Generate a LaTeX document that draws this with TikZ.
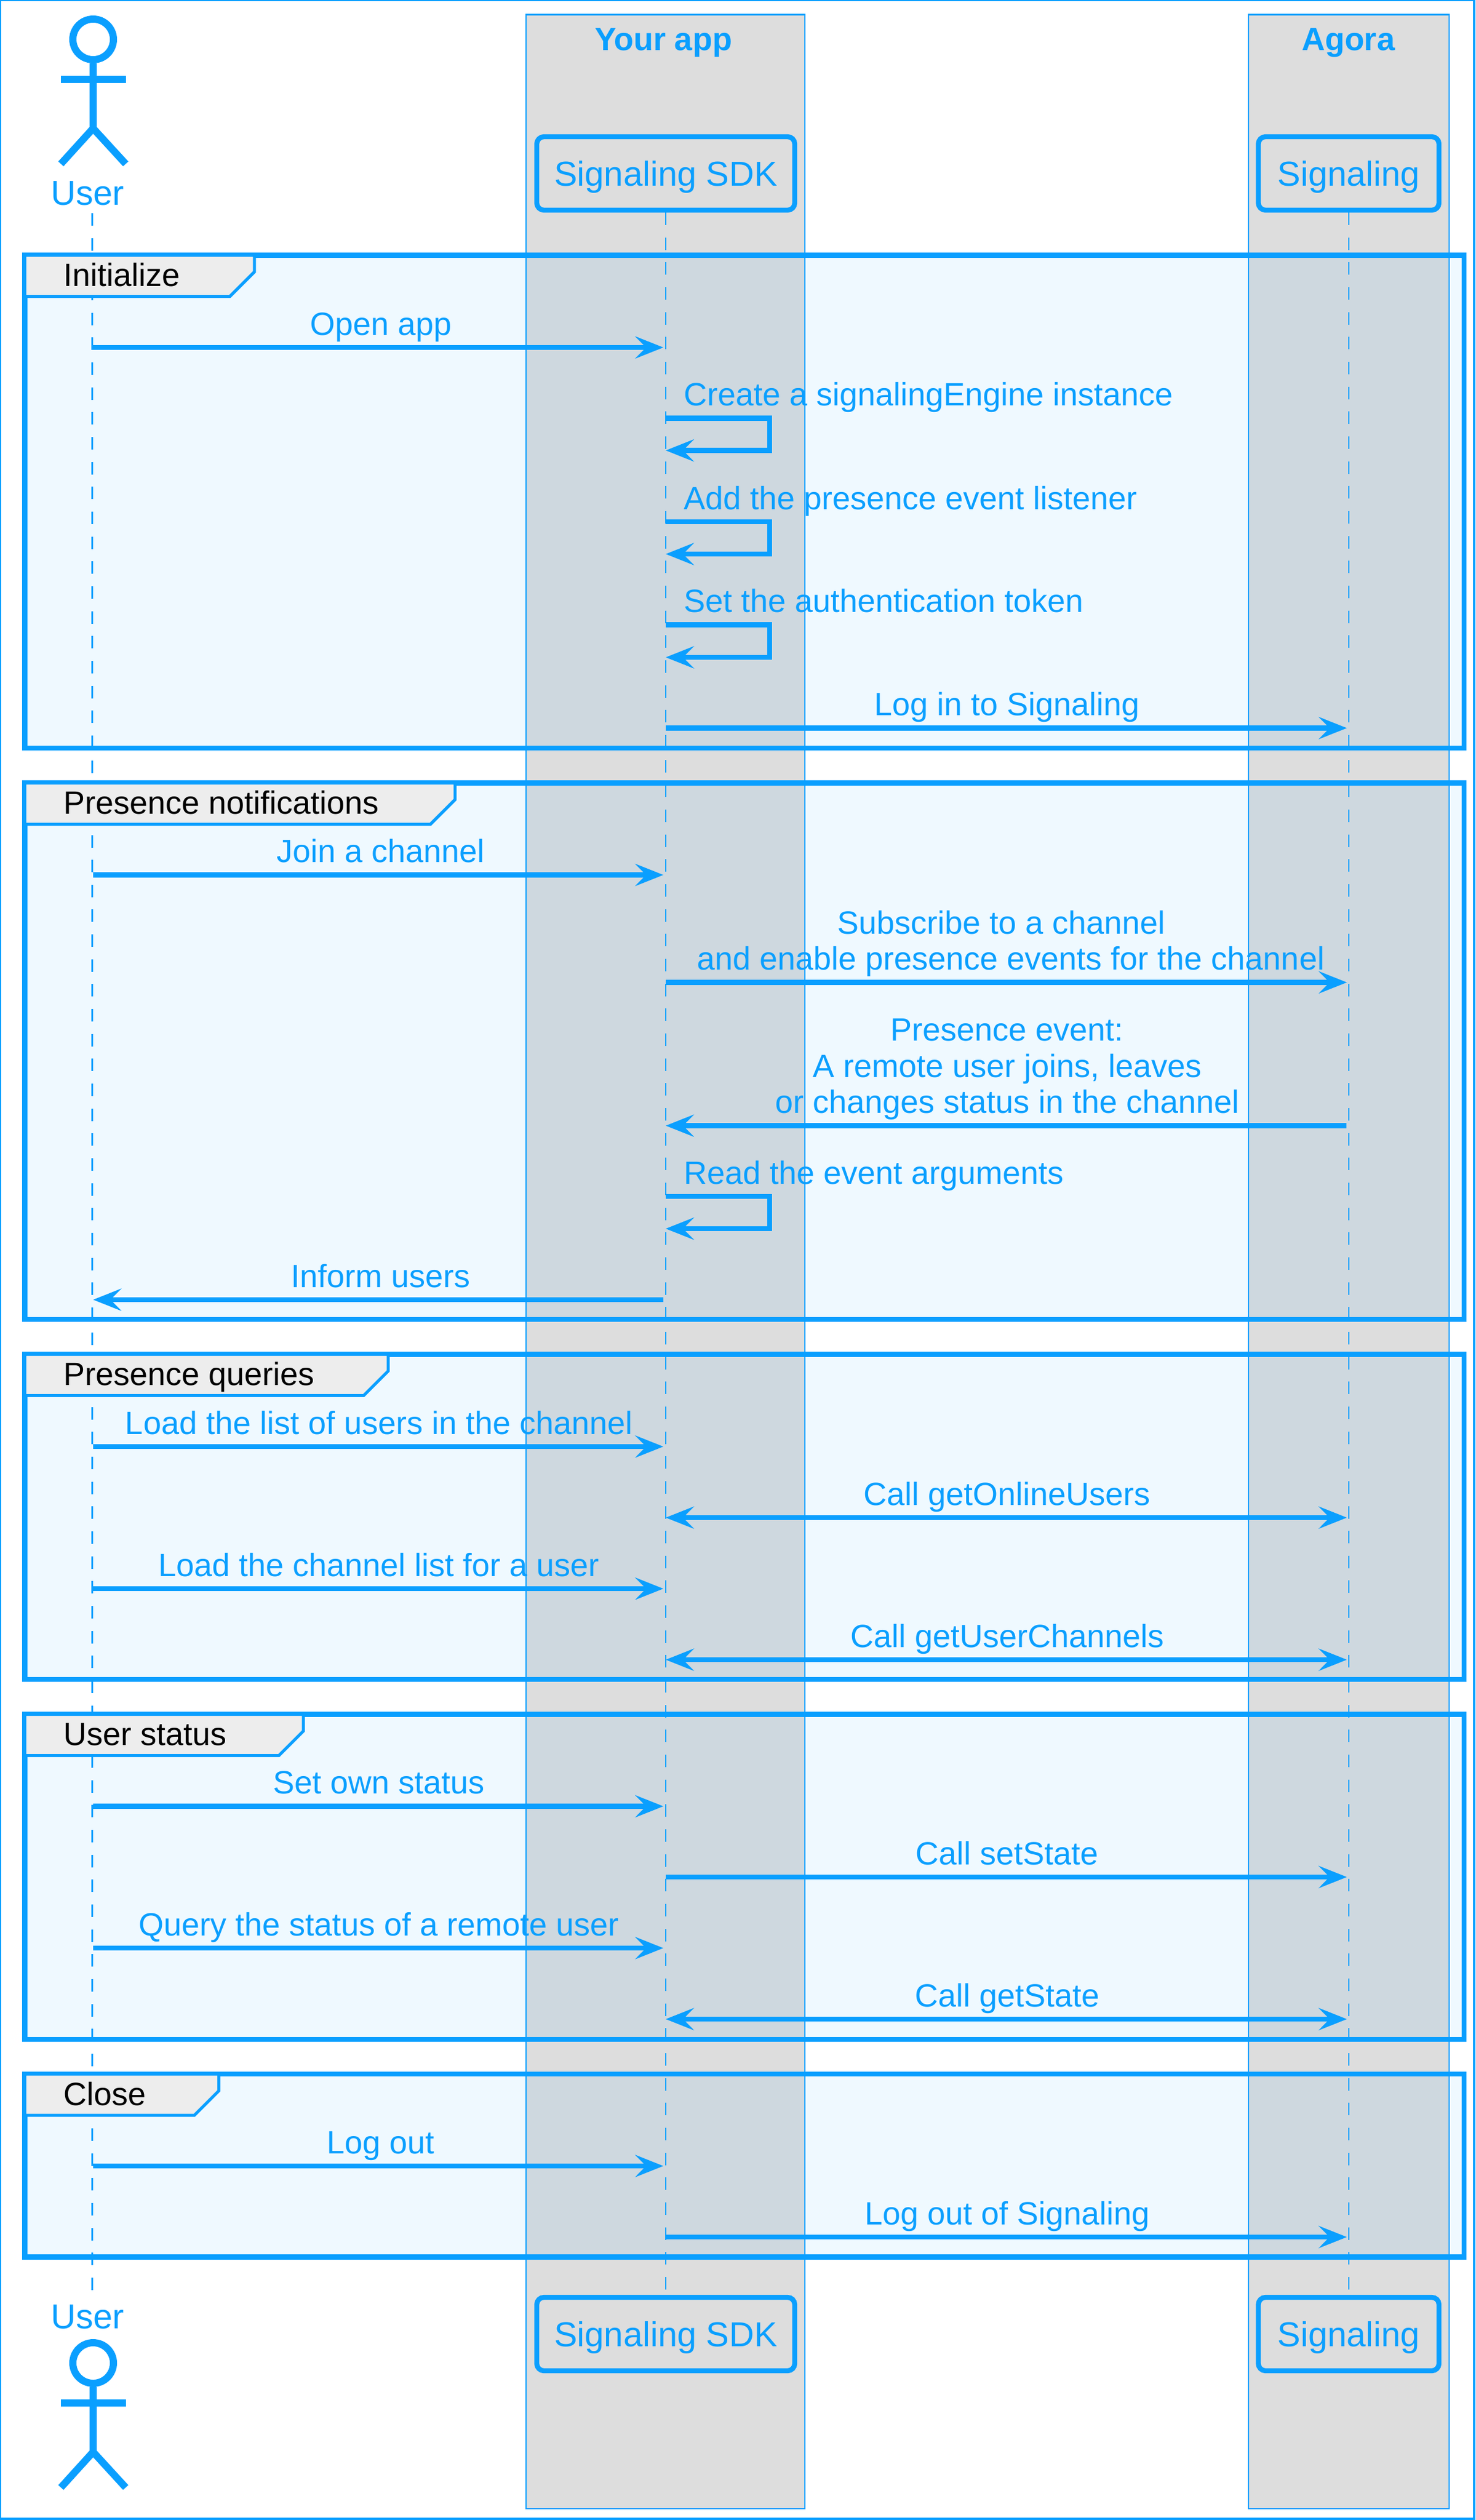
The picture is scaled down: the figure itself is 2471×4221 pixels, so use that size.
\documentclass[tikz,border=0pt]{standalone}
\usepackage{fontspec}
\setmainfont{Liberation Sans}
\usepackage{tikz}
\usetikzlibrary{arrows.meta}
\definecolor{agblue}{HTML}{0A9FFF}
\tikzset{
	x=1pt,
	y=-1pt,
	agtip/.tip={Stealth[length=47pt,width=37pt,inset=18pt]},
	lane/.style={
		draw=agblue,
		fill=black!13.5,
		line width=2.5pt,
	},
	lanetitle/.style={
		anchor=base,
		inner sep=0pt,
		text=agblue,
		font=\fontsize{54}{60.5}\selectfont\bfseries,
	},
	box/.style={
		draw=agblue,
		rectangle,
		rounded corners=12pt,
		line width=8.3pt,
		minimum height=123pt,
		text=agblue,
		text height=50pt,
		text depth=9pt,
		inner sep=0pt,
		font=\fontsize{58}{64}\selectfont,
	},
	actorname/.style={
		anchor=base,
		inner sep=0pt,
		text=agblue,
		font=\fontsize{58}{64}\selectfont,
	},
	lifeline/.style={
		draw=agblue,
		line width=2.5pt,
		dash pattern=on 21pt off 20.66pt,
	},
	frame/.style={
		draw=agblue,
		line width=8.3pt,
		fill=agblue,
		fill opacity=0.065,
		draw opacity=1,
	},
	tabshape/.style={
		draw=agblue,
		fill=black!7,
		line width=5pt,
	},
	tabname/.style={
		anchor=base west,
		inner sep=0pt,
		text=black,
		font=\fontsize{54}{60.5}\selectfont,
	},
	msg/.style={
		draw=agblue,
		line width=8.3pt,
		-agtip,
	},
	both/.style={
		draw=agblue,
		line width=8.3pt,
		agtip-agtip,
	},
	lbl/.style={
		anchor=south,
		inner sep=0pt,
		outer sep=0pt,
		yshift=21pt,
		text=agblue,
		text depth=0pt,
		align=center,
		font=\fontsize{54}{60.5}\selectfont,
	},
	selflbl/.style={
		lbl,
		anchor=south west,
		xshift=30.5pt,
	},
	actorman/.pic={
		\draw[agblue,line width=12pt] (0,0) circle (34);
		\draw[agblue,line width=12pt] (0,40) -- (0,149);
		\draw[agblue,line width=12pt] (-54,67) -- (55,67);
		\draw[agblue,line width=12pt] (-54,208.5) -- (0,149) -- (54.5,208.5);
	},
}

\begin{document}
\begin{tikzpicture}
	\useasboundingbox (0,0) rectangle (2471,4221);
	\draw[agblue,line width=4pt] (0,0) rectangle (2469,4219);

	\draw[lane] (881,24.5) rectangle (1348,4202);
	\draw[lane] (2091,24.5) rectangle (2427,4202);
	\node[lanetitle] (YourApp) at (1111,84) {Your app};
	\node[lanetitle] (Agora) at (2258,84) {Agora};

	\pic at (156,66) {actorman};
	\pic at (156,3958) {actorman};
	\node[actorname] (User1) at (147,343) {User};
	\node[actorname] (User2) at (147,3900) {User};

	\node[box,minimum width=432pt] (Sdk1) at (1115,290.5) {Signaling SDK};
	\node[box,minimum width=302.5pt] (Sig1) at (2258.75,290.5) {Signaling};
	\node[box,minimum width=432pt] (Sdk2) at (1115,3909.5) {Signaling SDK};
	\node[box,minimum width=302.5pt] (Sig2) at (2258.75,3909.5) {Signaling};

	\coordinate (U1) at (154.5,357);
	\coordinate (U2) at (154.5,3836);
	\draw[lifeline] (U1) -- (U2);
	\draw[lifeline,shorten >=8pt] (Sdk1) -- (Sdk2);
	\draw[lifeline,shorten >=8pt] (Sig1) -- (Sig2);

	% groups
	\draw[frame] (41.5,427.5) rectangle (2452,1253);
	\draw[tabshape] (41.5,427.5) -- (426,427.5) -- (426,455.5) -- (385,496.5) -- (41.5,496.5) -- cycle;
	\node[tabname] (Tab1) at (106,479.5) {Initialize};

	\draw[frame] (41.5,1311.5) rectangle (2452,2210);
	\draw[tabshape] (41.5,1311.5) -- (762,1311.5) -- (762,1339.5) -- (721,1380.5) -- (41.5,1380.5) -- cycle;
	\node[tabname] (Tab2) at (106,1363.5) {Presence notifications};

	\draw[frame] (41.5,2268.5) rectangle (2452,2813);
	\draw[tabshape] (41.5,2268.5) -- (650,2268.5) -- (650,2296.5) -- (609,2337.5) -- (41.5,2337.5) -- cycle;
	\node[tabname] (Tab3) at (106,2320.5) {Presence queries};

	\draw[frame] (41.5,2871.5) rectangle (2452,3416);
	\draw[tabshape] (41.5,2871.5) -- (508,2871.5) -- (508,2899.5) -- (467,2940.5) -- (41.5,2940.5) -- cycle;
	\node[tabname] (Tab4) at (106,2923.5) {User status};

	\draw[frame] (41.5,3474) rectangle (2452,3780.5);
	\draw[tabshape] (41.5,3474) -- (366.5,3474) -- (366.5,3502) -- (325.5,3543) -- (41.5,3543) -- cycle;
	\node[tabname] (Tab5) at (106,3526) {Close};

	% message heights
	\coordinate (M1) at (0,582);
	\coordinate (M2) at (0,700.5);
	\coordinate (M3) at (0,754.5);
	\coordinate (M4) at (0,874);
	\coordinate (M5) at (0,928);
	\coordinate (M6) at (0,1046.5);
	\coordinate (M7) at (0,1101);
	\coordinate (M8) at (0,1219.5);
	\coordinate (M9) at (0,1465.5);
	\coordinate (M10) at (0,1645.5);
	\coordinate (M11) at (0,1885.5);
	\coordinate (M12) at (0,2004);
	\coordinate (M13) at (0,2058);
	\coordinate (M14) at (0,2177);
	\coordinate (M15) at (0,2423);
	\coordinate (M16) at (0,2542);
	\coordinate (M17) at (0,2661);
	\coordinate (M18) at (0,2780);
	\coordinate (M19) at (0,3025.5);
	\coordinate (M20) at (0,3144);
	\coordinate (M21) at (0,3263);
	\coordinate (M22) at (0,3382);
	\coordinate (M23) at (0,3628);
	\coordinate (M24) at (0,3747);

	% initialize
	\draw[msg,shorten <=1.5pt,shorten >=4pt] (U1 |- M1) -- node[lbl,xshift=3pt] {Open app} (Sdk1 |- M1);
	\draw[msg] (Sdk1 |- M2) node[selflbl] {Create a signalingEngine instance} -- ++(174,0) -- ++(0,54) -- (Sdk1 |- M3);
	\draw[msg] (Sdk1 |- M4) node[selflbl] {Add the presence event listener} -- ++(174,0) -- ++(0,54) -- (Sdk1 |- M5);
	\draw[msg] (Sdk1 |- M6) node[selflbl] {Set the authentication token} -- ++(174,0) -- ++(0,54.5) -- (Sdk1 |- M7);
	\draw[msg,shorten >=3pt] (Sdk1 |- M8) -- node[lbl] {Log in to Signaling} (Sig1 |- M8);

	% presence notifications
	\draw[msg,shorten <=1.5pt,shorten >=4pt] (U1 |- M9) -- node[lbl,xshift=3pt] {Join a channel} (Sdk1 |- M9);
	\draw[msg,shorten >=3pt] (Sdk1 |- M10) -- node[lbl,xshift=6pt] {Subscribe to a channel\kern32pt\\and enable presence events for the channel} (Sig1 |- M10);
	\draw[msg,shorten <=4pt] (Sig1 |- M11) -- node[lbl] {Presence event:\\A remote user joins, leaves\\or changes status in the channel} (Sdk1 |- M11);
	\draw[msg] (Sdk1 |- M12) node[selflbl] {Read the event arguments} -- ++(174,0) -- ++(0,54) -- (Sdk1 |- M13);
	\draw[msg,shorten <=4pt,shorten >=1.5pt] (Sdk1 |- M14) -- node[lbl,xshift=3pt] {Inform users} (U1 |- M14);

	% presence queries
	\draw[msg,shorten <=1.5pt,shorten >=4pt] (U1 |- M15) -- node[lbl] {Load the list of users in the channel} (Sdk1 |- M15);
	\draw[both,shorten >=3pt] (Sdk1 |- M16) -- node[lbl] {Call getOnlineUsers} (Sig1 |- M16);
	\draw[msg,shorten <=1.5pt,shorten >=4pt] (U1 |- M17) -- node[lbl] {Load the channel list for a user} (Sdk1 |- M17);
	\draw[both,shorten >=3pt] (Sdk1 |- M18) -- node[lbl] {Call getUserChannels} (Sig1 |- M18);

	% user status
	\draw[msg,shorten <=1.5pt,shorten >=4pt] (U1 |- M19) -- node[lbl] {Set own status} (Sdk1 |- M19);
	\draw[msg,shorten >=3pt] (Sdk1 |- M20) -- node[lbl] {Call setState} (Sig1 |- M20);
	\draw[msg,shorten <=1.5pt,shorten >=4pt] (U1 |- M21) -- node[lbl] {Query the status of a remote user} (Sdk1 |- M21);
	\draw[both,shorten >=3pt] (Sdk1 |- M22) -- node[lbl] {Call getState} (Sig1 |- M22);

	% close
	\draw[msg,shorten <=1.5pt,shorten >=4pt] (U1 |- M23) -- node[lbl,xshift=3pt] {Log out} (Sdk1 |- M23);
	\draw[msg,shorten >=3pt] (Sdk1 |- M24) -- node[lbl] {Log out of Signaling} (Sig1 |- M24);
\end{tikzpicture}
\end{document}
